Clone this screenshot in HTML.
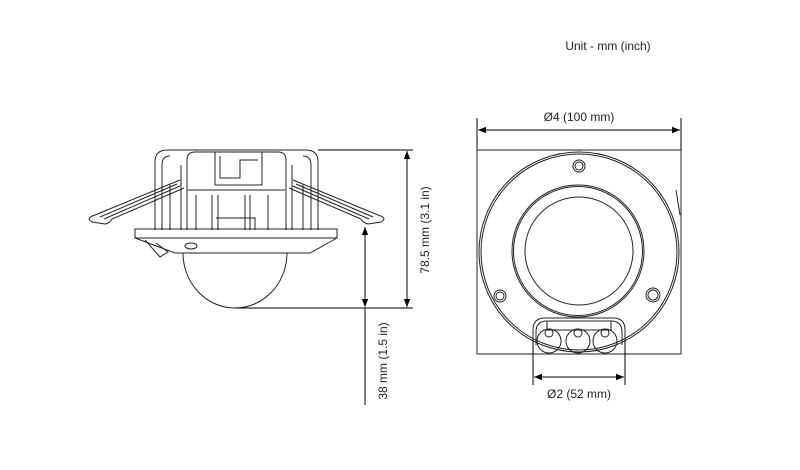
<!DOCTYPE html>
<html><head><meta charset="utf-8"><style>
html,body{margin:0;padding:0;background:#fff;}
svg{display:block;}
text{font-family:"Liberation Sans",sans-serif;font-size:12px;fill:#222;}
</style></head><body>
<svg width="800" height="470" viewBox="0 0 800 470" xmlns="http://www.w3.org/2000/svg">
<defs>
<marker id="a" viewBox="0 0 10 10" refX="10" refY="5" markerWidth="8" markerHeight="8" orient="auto-start-reverse" markerUnits="userSpaceOnUse"><path d="M0,1 L10,5 L0,9 z" fill="#000"/></marker>
</defs>
<text x="608" y="50" text-anchor="middle">Unit - mm (inch)</text>

<!-- LEFT SIDE VIEW -->
<g fill="none" stroke="#222" stroke-width="1">
<!-- housing top -->
<path d="M155,230 V162 Q155,150 167,150 H306 Q318,150 318,162 V230"/>
<path d="M162,230 V165 Q162,156 170,156"/>
<path d="M311,230 V165 Q311,156 303,156"/>
<path d="M187,230 V160 Q187,152 195,152 H278 Q286,152 286,160 V230"/>
<path d="M215,152 V185 H262 V152"/>
<path d="M220,156 V178 H240 V160 H258"/>
<path d="M181,165 V230 M292,165 V230"/>
<path d="M188,190 H285"/>
<path d="M196,195 V230 M212,195 V230 M250,195 V230 M268,195 V230"/>
<path d="M218,195 V230 M245,195 V230"/>
<path d="M216,218 H255 V230"/>
<path d="M170,185 V230 M303,185 V230"/>
<!-- left clip -->
<path d="M180,180 L95,215 Q85,218 92,222 L105,224 Q110,223 112,219 L184,188"/>
<path d="M177,184 L100,217 M180,186 L104,219"/>
<!-- right clip -->
<path d="M293,180 L378,215 Q388,218 381,222 L368,224 Q363,223 361,219 L289,188"/>
<path d="M296,184 L373,217 M293,186 L369,219"/>
<!-- flange -->
<path d="M135,229 H337 V238 L310,253 H175 L135,238 Z"/>
<path d="M135,238 H337"/>
<path d="M145,240 L160,257 L168,252 L156,243"/>
<ellipse cx="191" cy="246" rx="6" ry="3"/>
<!-- dome -->
<path d="M183,253 A52,55 0 0 0 287,253"/>
</g>
<!-- left dimension lines -->
<g stroke="#000" stroke-width="1" fill="none">
<line x1="318" y1="150" x2="413" y2="150"/>
<line x1="235" y1="308" x2="413" y2="308"/>
<line x1="407" y1="151" x2="407" y2="307" marker-start="url(#a)" marker-end="url(#a)"/>
<line x1="365" y1="227" x2="365" y2="307" marker-start="url(#a)" marker-end="url(#a)"/>
<line x1="365" y1="308" x2="365" y2="405"/>
</g>
<text transform="translate(429,230) rotate(-90)" text-anchor="middle">78.5 mm (3.1 in)</text>
<text transform="translate(387,361) rotate(-90)" text-anchor="middle">38 mm (1.5 in)</text>

<!-- RIGHT FRONT VIEW -->
<g fill="none" stroke="#222" stroke-width="1">
<rect x="477" y="150" width="204" height="204"/>
<circle cx="579" cy="252" r="100"/>
<circle cx="579" cy="252" r="98"/>
<circle cx="578" cy="251" r="66"/>
<circle cx="578" cy="251" r="64.5"/>
<circle cx="579" cy="251" r="54"/>
<circle cx="579" cy="166" r="6"/><circle cx="579" cy="166" r="4"/>
<circle cx="653" cy="295" r="7"/><circle cx="653" cy="295" r="5"/>
<circle cx="500" cy="296" r="6"/><circle cx="500" cy="296" r="4"/>
<path d="M676,190 L680,215"/>
<path d="M533,345 V330 Q533,318 545,318 H613 Q625,318 625,330 V345"/>
<path d="M536,345 V332 Q536,321 547,321 H611 Q622,321 622,332 V345"/>
<path d="M547,321 V330 H611 V321"/>
<circle cx="549" cy="341" r="12"/>
<circle cx="578" cy="341" r="12"/>
<circle cx="605" cy="341" r="12"/>
<circle cx="549" cy="333" r="4"/><circle cx="578" cy="333" r="4"/><circle cx="605" cy="333" r="4"/>
</g>
<g stroke="#000" stroke-width="1" fill="none">
<line x1="477" y1="118" x2="477" y2="150"/>
<line x1="681" y1="118" x2="681" y2="150"/>
<line x1="478" y1="130" x2="680" y2="130" marker-start="url(#a)" marker-end="url(#a)"/>
<line x1="533" y1="340" x2="533" y2="385"/>
<line x1="625" y1="340" x2="625" y2="385"/>
<line x1="534" y1="377" x2="624" y2="377" marker-start="url(#a)" marker-end="url(#a)"/>
</g>
<text x="579" y="121" text-anchor="middle">Ø4 (100 mm)</text>
<text x="579" y="398" text-anchor="middle">Ø2 (52 mm)</text>
</svg>
</body></html>
